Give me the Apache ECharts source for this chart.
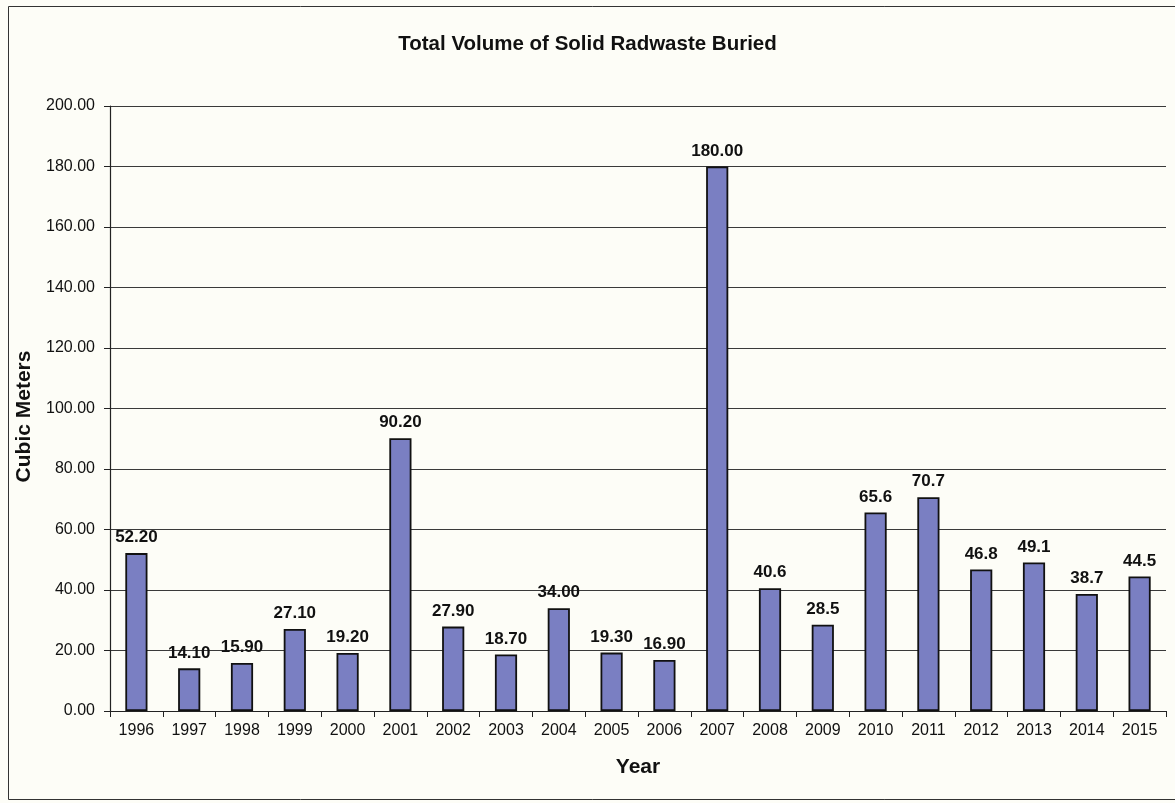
<!DOCTYPE html>
<html><head><meta charset="utf-8">
<script src="https://cdn.jsdelivr.net/npm/echarts@6/dist/echarts.min.js"></script>
<style>html,body{margin:0;padding:0;background:#fdfdf7;}#c{width:1175px;height:803px;}</style>
</head><body><div id="c"></div>
<script>
const years = ['1996','1997','1998','1999','2000','2001','2002','2003','2004','2005','2006','2007','2008','2009','2010','2011','2012','2013','2014','2015'];
const volumes = [52.2,14.1,15.9,27.1,19.2,90.2,27.9,18.7,34.0,19.3,16.9,180.0,40.6,28.5,65.6,70.7,46.8,49.1,38.7,44.5];
const labelDecimals = [2,2,2,2,2,2,2,2,2,2,2,2,1,1,1,1,1,1,1,1];
const yTicks = {min:0, max:200, interval:20};

const chart = echarts.init(document.getElementById('c'));
chart.setOption({
  backgroundColor:'#fdfdf7',
  animation:false,
  title:{text:'Total Volume of Solid Radwaste Buried',left:'center',top:29,
    textStyle:{fontFamily:'Liberation Sans',fontSize:20.5,fontWeight:'bold',color:'#111'}},
  graphic:[{type:'rect',shape:{x:8.5,y:6.5,width:1180,height:793},style:{fill:null,stroke:'#333',lineWidth:1},silent:true}],
  grid:{left:110,right:9,top:106,bottom:92,containLabel:false},
  xAxis:{type:'category',data:years,name:'Year',nameLocation:'middle',nameGap:46,
    nameTextStyle:{fontFamily:'Liberation Sans',fontSize:21,fontWeight:'bold',color:'#111'},
    axisLine:{lineStyle:{color:'#222',width:1.2}},
    axisTick:{show:true,alignWithLabel:false,length:6,lineStyle:{color:'#222'}},
    axisLabel:{fontFamily:'Liberation Sans',fontSize:16,color:'#111',margin:12,interval:0}},
  yAxis:{type:'value',min:yTicks.min,max:yTicks.max,interval:yTicks.interval,name:'Cubic Meters',nameLocation:'middle',nameGap:74,
    nameTextStyle:{fontFamily:'Liberation Sans',fontSize:21,fontWeight:'bold',color:'#111',padding:[0,16,0,0]},
    axisLine:{show:true,lineStyle:{color:'#222',width:1.2}},
    axisTick:{show:true,length:6,lineStyle:{color:'#222'}},
    splitLine:{show:true,lineStyle:{color:'#3a3a3a',width:1.2}},
    axisLabel:{fontFamily:'Liberation Sans',fontSize:16,color:'#111',margin:15,formatter:v=>v.toFixed(2)}},
  series:[{type:'bar',data:volumes,barWidth:'42%',
    itemStyle:{color:'#7a7fc2',borderColor:'#111',borderWidth:1.8},
    label:{show:true,position:'top',distance:7,fontFamily:'Liberation Sans',fontSize:17,fontWeight:'bold',color:'#111',
      formatter:p=>p.value.toFixed(labelDecimals[p.dataIndex])}}]
});
</script></body></html>
